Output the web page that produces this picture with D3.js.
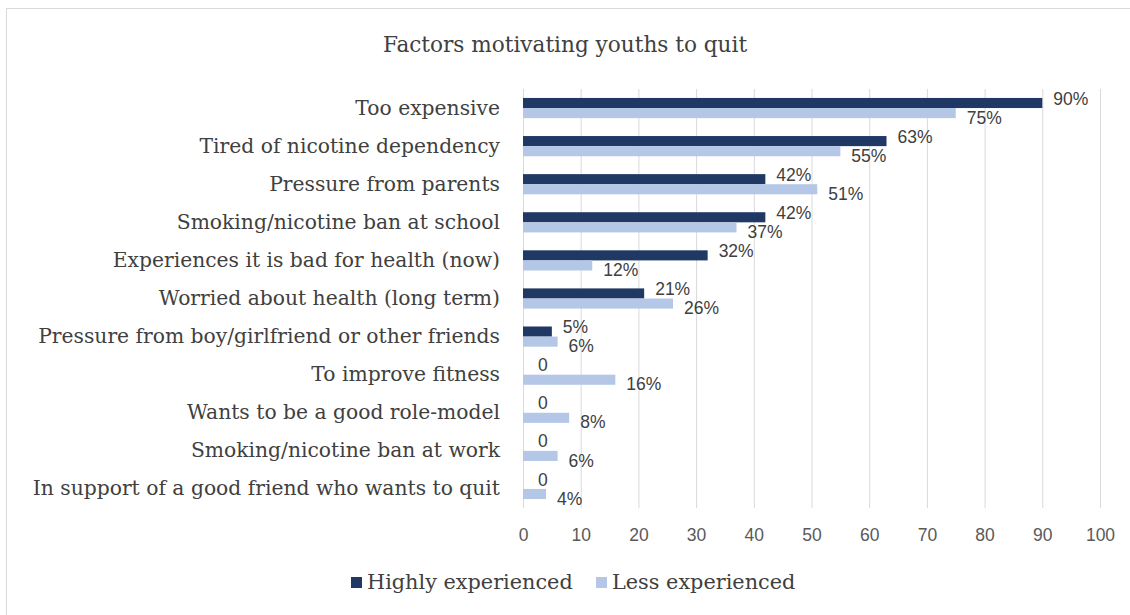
<!DOCTYPE html>
<html><head><meta charset="utf-8">
<script src="https://cdn.jsdelivr.net/npm/d3@7"></script>
<style>body{margin:0;background:#fff}</style>
</head><body>
<svg id="chart" width="1130" height="615"></svg>
<script>
const categories = [
  "Too expensive",
  "Tired of nicotine dependency",
  "Pressure from parents",
  "Smoking/nicotine ban at school",
  "Experiences it is bad for health (now)",
  "Worried about health (long term)",
  "Pressure from boy/girlfriend or other friends",
  "To improve fitness",
  "Wants to be a good role-model",
  "Smoking/nicotine ban at work",
  "In support of a good friend who wants to quit"
];
const highlyExperienced = [90, 63, 42, 42, 32, 21, 5, 0, 0, 0, 0];
const lessExperienced = [75, 55, 51, 37, 12, 26, 6, 16, 8, 6, 4];
const seriesNames = ["Highly experienced", "Less experienced"];
const xTicks = [0, 10, 20, 30, 40, 50, 60, 70, 80, 90, 100];
const title = "Factors motivating youths to quit";

const colors = ["#1f3864", "#b4c7e7"];
const svg = d3.select("#chart");
const W = 1130, H = 615;
const margin = {left: 523, right: 30, top: 89, bottom: 107};

// frame
svg.append("rect").attr("x", 6.5).attr("y", 8.5).attr("width", W - 4).attr("height", H)
  .attr("fill", "none").attr("stroke", "#d9d9d9").attr("stroke-width", 1);

const x = d3.scaleLinear().domain([0, 100]).range([margin.left, 1100]);
const y = d3.scaleBand().domain(categories).range([margin.top, H - margin.bottom]).paddingInner(0.47).paddingOuter(0.235);
const sub = d3.scaleBand().domain([0, 1]).range([0, y.bandwidth()]);

// gridlines
svg.append("g").selectAll("line").data(xTicks).join("line")
  .attr("x1", d => x(d) + 0.5).attr("x2", d => x(d) + 0.5)
  .attr("y1", margin.top).attr("y2", H - margin.bottom)
  .attr("stroke", "#d9d9d9").attr("stroke-width", 1);

// x axis
const xAxis = svg.append("g").attr("transform", `translate(0,${H - margin.bottom})`)
  .call(d3.axisBottom(x).tickValues(xTicks).tickSize(0).tickPadding(21));
xAxis.select(".domain").remove();
xAxis.selectAll("text").attr("font-family", "Liberation Sans, Arial, sans-serif")
  .attr("font-size", 17.5).attr("fill", "#595959");

// y axis labels
const yAxis = svg.append("g").attr("transform", `translate(${margin.left},0)`)
  .call(d3.axisLeft(y).tickSize(0).tickPadding(23));
yAxis.select(".domain").remove();
yAxis.selectAll("text").attr("font-family", "DejaVu Serif, serif")
  .attr("font-size", 20.3).attr("fill", "#404040");

const series = [highlyExperienced, lessExperienced];
series.forEach((vals, si) => {
  const g = svg.append("g");
  g.selectAll("rect").data(vals).join("rect")
    .attr("x", x(0))
    .attr("y", (d, i) => y(categories[i]) + sub(si))
    .attr("width", d => x(d) - x(0))
    .attr("height", sub.bandwidth())
    .attr("fill", colors[si]);
  g.selectAll("text").data(vals).join("text")
    .attr("x", d => x(d) + (d === 0 ? 15 : 11))
    .attr("y", (d, i) => y(categories[i]) + sub(si) + sub.bandwidth() / 2 + (si === 0 ? -3 : 6))
    .attr("dominant-baseline", "middle")
    .attr("font-family", "Liberation Sans, Arial, sans-serif")
    .attr("font-size", 17.5).attr("fill", "#404040")
    .text(d => d === 0 ? "0" : d + "%");
});

// title
svg.append("text").attr("x", 565).attr("y", 52).attr("text-anchor", "middle")
  .attr("font-family", "DejaVu Serif, serif").attr("font-size", 21.6).attr("fill", "#404040")
  .text(title);

// legend
const legend = svg.append("g").attr("transform", "translate(0,583)");
const legX = [351, 596];
seriesNames.forEach((n, i) => {
  legend.append("rect").attr("x", legX[i]).attr("y", -6).attr("width", 11).attr("height", 11).attr("fill", colors[i]);
  legend.append("text").attr("x", legX[i] + 16).attr("y", 0).attr("dominant-baseline", "middle")
    .attr("font-family", "DejaVu Serif, serif").attr("font-size", 20.8).attr("fill", "#404040").text(n);
});
</script>
</body></html>
